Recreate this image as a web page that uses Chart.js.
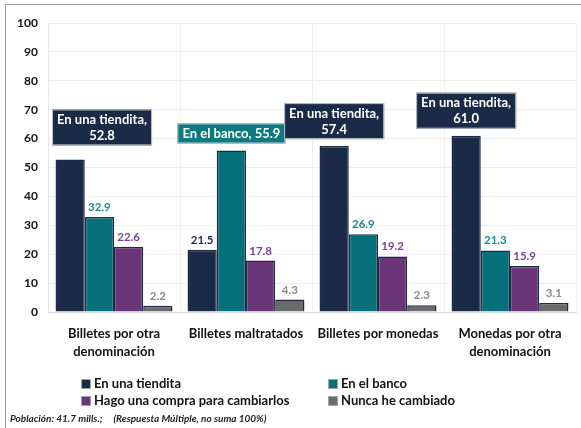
<!DOCTYPE html>
<html>
<head>
<meta charset="utf-8">
<script src="https://cdn.jsdelivr.net/npm/chart.js@4/dist/chart.umd.min.js"></script>
<style>
  body { margin: 0; background: #fff; }
  #wrap { position: relative; width: 581px; height: 428px; font-family: Lato, "Open Sans", sans-serif; }
  #frame { position: absolute; left: 5px; top: 4px; right: -2px; bottom: -2px; border-left: 1px solid #9a9a9a; border-top: 1px solid #9a9a9a; }
  canvas { position: absolute; left: 0; top: 0; }
  .leg { position: absolute; font-size: 13px; font-weight: 700; color: #111; white-space: nowrap; line-height: 16px; }
  .leg span { display: inline-block; width: 10px; height: 10px; margin-right: 3px; vertical-align: -1px; border: 1px solid #9aa; box-sizing: border-box; }
  #nota { position: absolute; left: 10px; top: 412px; font-size: 10px; font-weight: 700; font-style: italic; color: #222; white-space: pre; }
</style>
</head>
<body>
<div id="wrap">
  <div id="frame"></div>
  <canvas id="chartCambio" width="581" height="428"></canvas>
  <div class="leg" style="left:81px;top:375px"><span style="background:#1b2a47"></span>En una tiendita</div>
  <div class="leg" style="left:328px;top:375px"><span style="background:#06707a"></span>En el banco</div>
  <div class="leg" style="left:81px;top:392px"><span style="background:#6a3576"></span>Hago una compra para cambiarlos</div>
  <div class="leg" style="left:328px;top:392px"><span style="background:#6b6b6b"></span>Nunca he cambiado</div>
  <div id="nota">Población: 41.7 mills.;     (Respuesta Múltiple, no suma 100%)</div>
</div>
<script>
const categorias = [
  ["Billetes por otra", "denominación"],
  "Billetes maltratados",
  "Billetes por monedas",
  ["Monedas por otra", "denominación"],
];
const series = ["En una tiendita", "En el banco", "Hago una compra para cambiarlos", "Nunca he cambiado"];
const enTiendita = [52.8, 21.5, 57.4, 61.0];
const enBanco = [32.9, 55.9, 26.9, 21.3];
const hagoCompra = [22.6, 17.8, 19.2, 15.9];
const nuncaCambiado = [2.2, 4.3, 2.3, 3.1];

const colores = ["#1b2a47", "#06707a", "#6a3576", "#6b6b6b"];
const coloresTexto = ["#1b2a47", "#1a8b91", "#7b4490", "#8a8a8a"];
const coloresCaja = ["#1b2a47", "#0c7a80"];
const fuente = "Lato, 'Open Sans', sans-serif";

// etiquetas: la barra mas alta de cada grupo va en caja, las demas en texto
const etiquetas = {
  id: "etiquetas",
  afterDatasetsDraw(chart) {
    const ctx = chart.ctx;
    const area = chart.chartArea;
    const n = chart.data.labels.length;
    const lift = [14, 7, 7, 7];
    for (let i = 0; i < n; i++) {
      let maxDs = 0;
      chart.data.datasets.forEach((ds, d) => {
        if (ds.data[i] > chart.data.datasets[maxDs].data[i]) maxDs = d;
      });
      chart.data.datasets.forEach((ds, d) => {
        const bar = chart.getDatasetMeta(d).data[i];
        const val = ds.data[i].toFixed(1);
        ctx.save();
        if (d === maxDs) {
          ctx.font = "bold 13px " + fuente;
          const lines = d === 0 ? [ds.label + ",", val] : [ds.label + ", " + val];
          const w = Math.max(...lines.map((l) => ctx.measureText(l).width)) + 10;
          const h = lines.length * 16 + 4;
          let x0 = bar.x - w / 2;
          if (x0 < area.left + 4) x0 = area.left + 4;
          const y1 = bar.y - lift[i];
          ctx.fillStyle = coloresCaja[d] || colores[d];
          ctx.fillRect(x0, y1 - h, w, h);
          ctx.strokeStyle = "#b9c6cc";
          ctx.lineWidth = 1;
          ctx.strokeRect(x0 + 0.5, y1 - h + 0.5, w - 1, h - 1);
          ctx.fillStyle = "#fff";
          ctx.textAlign = "center";
          ctx.textBaseline = "middle";
          lines.forEach((l, k) => {
            ctx.fillText(l, x0 + w / 2, y1 - h + 10.5 + k * 16);
          });
        } else {
          ctx.font = "bold 11.5px " + fuente;
          ctx.fillStyle = coloresTexto[d];
          ctx.textAlign = "center";
          ctx.textBaseline = "bottom";
          ctx.fillText(val, bar.x, bar.y - 4);
        }
        ctx.restore();
      });
    }
  },
};

const datos = {
  labels: categorias,
  datasets: [enTiendita, enBanco, hagoCompra, nuncaCambiado].map((v, d) => ({
    label: series[d],
    data: v,
    backgroundColor: colores[d],
    borderColor: "#1b2a47",
    borderWidth: 1.5,
    borderSkipped: "bottom",
    categoryPercentage: 0.886,
    barPercentage: 1.0,
  })),
};

const config = {
  type: "bar",
  data: datos,
  options: {
    responsive: false,
    animation: false,
    layout: { padding: { left: 0, right: 5, top: 23, bottom: 0 } },
    plugins: { legend: { display: false }, tooltip: { enabled: false } },
    scales: {
      x: {
        grid: { color: "#eeeeee", drawTicks: false },
        border: { color: "#d9d9d9" },
        ticks: {
          color: "#111",
          padding: 12,
          maxRotation: 0,
          autoSkip: false,
          font: { family: fuente, size: 13, weight: "bold", lineHeight: 1.45 },
        },
        afterFit: (axis) => { axis.height = 116; },
      },
      y: {
        min: 0,
        max: 100,
        grid: { color: "#eeeeee", drawTicks: false },
        border: { color: "#e6e6e6" },
        ticks: {
          stepSize: 10,
          color: "#111",
          padding: 10,
          font: { family: fuente, size: 12, weight: "bold" },
        },
        afterFit: (axis) => { axis.width = 48; },
      },
    },
  },
  plugins: [etiquetas],
};

const chartCambio = new Chart(document.getElementById("chartCambio"), config);
</script>
</body>
</html>
